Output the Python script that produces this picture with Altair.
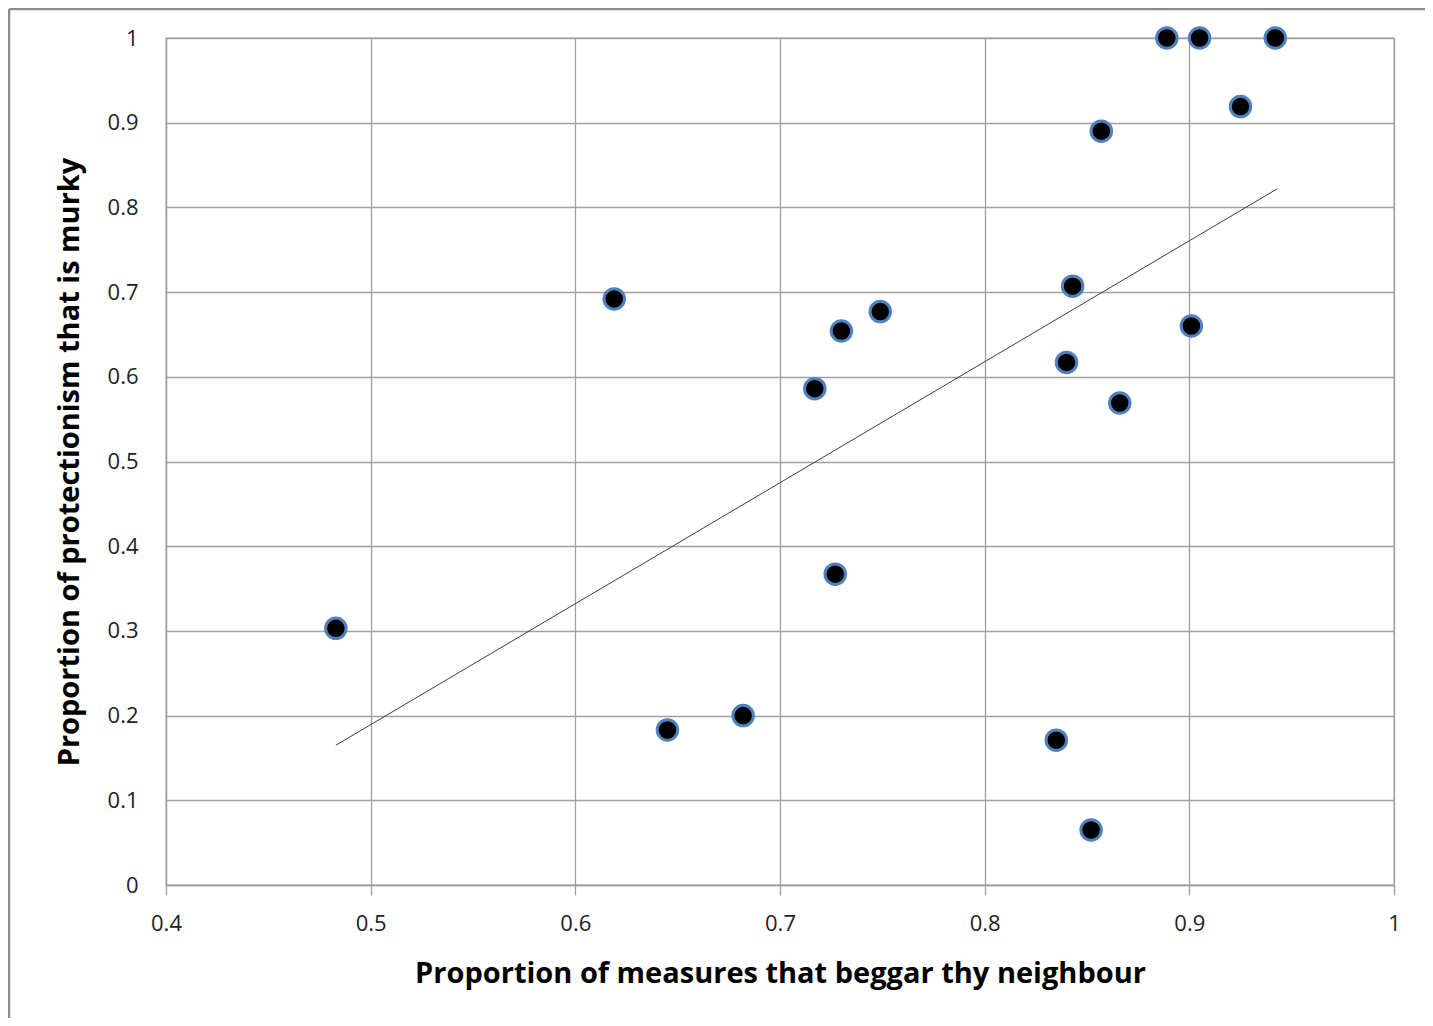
import altair as alt
import pandas as pd

x_vals = [0.483, 0.619, 0.645, 0.682, 0.717, 0.727, 0.730, 0.749, 0.835, 0.840,
          0.843, 0.852, 0.857, 0.866, 0.889, 0.901, 0.905, 0.925, 0.942]
y_vals = [0.303, 0.692, 0.183, 0.200, 0.586, 0.367, 0.654, 0.677, 0.171, 0.617,
          0.707, 0.065, 0.890, 0.569, 1.000, 0.660, 1.000, 0.919, 1.000]

trend_x = [0.483, 0.943]
trend_y = [0.165, 0.822]

df = pd.DataFrame({"x": x_vals, "y": y_vals})
tdf = pd.DataFrame({"x": trend_x, "y": trend_y})

FONT = "Open Sans"

xscale = alt.Scale(domain=[0.4, 1.0], nice=False, zero=False)
yscale = alt.Scale(domain=[0, 1.0], nice=False, zero=False)

xaxis = alt.Axis(title="Proportion of measures that beggar thy neighbour",
                 values=[0.4, 0.5, 0.6, 0.7, 0.8, 0.9, 1.0],
                 labelExpr="datum.value == 1 ? '1' : format(datum.value, '.1f')",
                 ticks=True, tickSize=10)
yaxis = alt.Axis(title="Proportion of protectionism that is murky",
                 values=[0, 0.1, 0.2, 0.3, 0.4, 0.5, 0.6, 0.7, 0.8, 0.9, 1.0],
                 labelExpr="datum.value == 1 ? '1' : datum.value == 0 ? '0' : format(datum.value, '.1f')",
                 ticks=False)

one = pd.DataFrame({"k": [0]})
frame_top = alt.Chart(one).mark_rule(color="#8c8c8c", strokeWidth=2.5, clip=False).encode(
    x=alt.value(-157), x2=alt.value(1270), y=alt.value(-29)
)
frame_left = alt.Chart(one).mark_rule(color="#8c8c8c", strokeWidth=2.5, clip=False).encode(
    x=alt.value(-157), y=alt.value(-29), y2=alt.value(1000)
)

trend = alt.Chart(tdf).mark_line(color="#3a3a3a", strokeWidth=1).encode(
    x=alt.X("x:Q", scale=xscale, axis=xaxis),
    y=alt.Y("y:Q", scale=yscale, axis=yaxis),
)

points = alt.Chart(df).mark_point(
    shape="circle", filled=True, fill="black", stroke="#4F81BD", strokeWidth=3,
    size=420, opacity=1
).encode(x=alt.X("x:Q", scale=xscale), y=alt.Y("y:Q", scale=yscale))

chart = alt.layer(trend, points, frame_top, frame_left).properties(
    width=1228, height=847,
    background="white",
    autosize=alt.AutoSizeParams(type="none"),
    padding={"left": 158, "top": 30, "right": 31, "bottom": 133},
).configure_view(stroke="#a0a0a0", strokeWidth=1.3).configure_axis(
    grid=True, gridColor="#a0a0a0", gridWidth=1.3,
    domainColor="#a0a0a0", domainWidth=1.3,
    tickColor="#a0a0a0", tickWidth=1.3,
    labelFont=FONT, labelFontSize=22, labelColor="#222222",
    labelFlush=False, labelOverlap=False,
    titleFont=FONT, titleFontSize=29, titleFontWeight="bold", titleColor="black",
).configure_axisX(labelPadding=18, titlePadding=25).configure_axisY(
    labelPadding=28, titlePadding=23
)

chart.save("out.html", embed_options={"renderer": "svg", "actions": False})
